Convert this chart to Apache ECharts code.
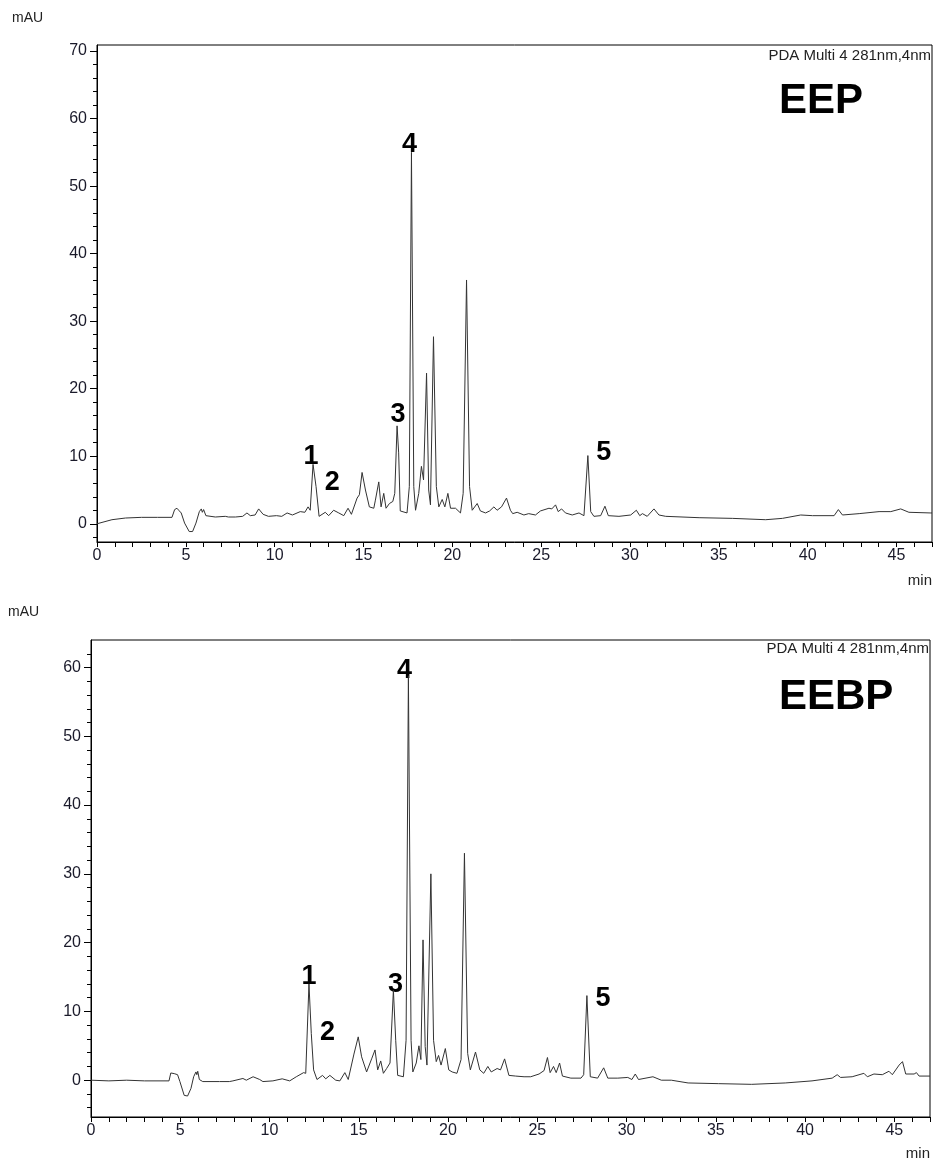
<!DOCTYPE html>
<html>
<head>
<meta charset="utf-8">
<script src="https://cdn.jsdelivr.net/npm/echarts@6/dist/echarts.min.js"></script>
<style>
html,body{margin:0;padding:0;background:#fff;}
#chart{width:935px;height:1161px;}
</style>
</head>
<body>
<div id="chart"></div>
<script>
// ---- Data (retention time in min, absorbance in mAU) ----
const eepTime = [0,0.1,0.84,1.6,2.5,3.4,4.22,4.37,4.5,4.6,4.74,4.93,5.19,5.38,5.57,5.76,5.87,5.93,6.0,6.13,6.66,7.22,7.4,7.79,8.2,8.44,8.63,8.9,9.1,9.35,9.65,10.1,10.4,10.7,11.0,11.44,11.7,11.88,12.0,12.16,12.33,12.5,12.85,13.04,13.32,13.61,13.89,14.13,14.32,14.64,14.77,14.92,15.11,15.33,15.58,15.67,15.86,15.99,16.14,16.27,16.46,16.65,16.76,16.89,16.98,17.07,17.45,17.58,17.70,17.83,17.93,18.11,18.26,18.38,18.55,18.67,18.77,18.94,19.1,19.24,19.43,19.58,19.75,19.9,20.18,20.46,20.61,20.8,20.97,21.12,21.4,21.58,21.87,22.1,22.34,22.52,22.77,23.05,23.27,23.4,23.65,24.03,24.3,24.68,24.96,25.44,25.6,25.81,25.96,26.15,26.37,26.75,27.13,27.41,27.63,27.79,27.97,28.35,28.59,28.78,29.38,30.04,30.36,30.55,30.7,30.97,31.35,31.63,32.01,33.89,35.76,37.64,38.58,39.61,40.27,41.49,41.73,41.96,42.9,44.02,44.68,45.24,45.7,46.93,47];
const eepAbs  = [0,0,0.6,0.85,0.95,0.95,0.95,2.1,2.3,2.0,1.6,0.1,-1.15,-1.15,0.1,1.8,2.2,1.7,2.1,1.2,1.0,1.1,1.0,1.0,1.1,1.6,1.2,1.3,2.2,1.4,1.1,1.2,1.1,1.6,1.3,1.8,1.7,2.5,2.0,8.8,5.5,1.1,1.7,1.2,2.0,1.6,1.2,2.3,1.4,3.8,4.3,7.6,5.0,2.5,2.3,3.5,6.2,2.5,4.5,2.3,3.0,3.3,4.5,14.5,10.5,1.9,1.6,5.5,55.0,5.5,2.0,4.5,8.5,6.5,22.3,5.0,2.8,27.7,5.5,2.5,3.6,2.5,4.5,2.3,2.3,1.6,4.5,36.1,5.5,2.0,3.0,1.9,1.6,1.9,2.5,2.0,2.5,3.8,2.0,1.5,1.7,1.3,1.5,1.3,1.9,2.3,2.2,2.8,1.8,2.2,1.6,1.3,1.6,1.2,10.1,1.8,1.1,1.2,2.6,1.2,1.1,1.3,2.0,1.2,1.5,1.1,2.2,1.3,1.1,0.9,0.8,0.6,0.8,1.3,1.2,1.2,2.1,1.3,1.5,1.8,1.8,2.2,1.7,1.6,1.6];

const eebpTime = [0,1.0,2.0,3.0,4.37,4.47,4.66,4.85,4.98,5.22,5.41,5.6,5.75,5.88,5.93,5.98,6.07,6.26,7.2,7.75,7.95,8.51,8.7,9.08,9.45,9.63,10.19,10.71,11.13,11.5,11.91,12.03,12.21,12.34,12.47,12.66,12.97,13.15,13.38,13.71,13.94,14.22,14.41,14.73,14.97,15.16,15.44,15.72,15.91,16.06,16.23,16.38,16.56,16.75,16.94,17.07,17.18,17.5,17.65,17.78,17.93,18.03,18.22,18.37,18.48,18.6,18.72,18.82,19.04,19.19,19.34,19.47,19.61,19.85,20.04,20.23,20.5,20.73,20.92,21.1,21.25,21.54,21.78,22.0,22.23,22.42,22.75,22.94,23.17,23.41,23.79,24.26,24.63,25.1,25.38,25.57,25.72,25.91,26.06,26.25,26.41,26.88,27.45,27.6,27.78,27.97,28.38,28.72,28.95,29.51,30.07,30.3,30.49,30.67,31.48,31.95,32.51,33.45,35.14,37.01,38.89,40.39,41.52,41.8,41.99,42.64,43.3,43.49,43.86,44.33,44.7,44.89,45.27,45.46,45.64,46.11,46.24,46.39,47];
const eebpAbs  = [0,-0.1,0.0,-0.1,-0.1,1.05,0.96,0.8,-0.2,-2.2,-2.3,-1.2,0.5,1.2,0.8,1.3,0.1,-0.2,-0.2,-0.2,-0.1,0.25,0.0,0.5,0.1,-0.2,-0.1,0.2,-0.1,0.5,1.1,1.0,14.0,6.8,1.5,0.1,0.7,0.2,0.7,0.0,-0.1,1.1,0.1,3.8,6.3,3.4,1.2,3.1,4.4,1.5,2.8,1.0,1.7,2.5,13.1,5.8,0.7,0.5,5.8,58.8,5.8,1.2,2.5,5.0,3.0,20.4,4.9,2.2,30.0,5.8,2.7,3.6,2.2,4.6,1.5,1.2,1.0,3.0,33.0,3.9,1.5,4.1,1.5,1.0,2.0,1.2,1.7,1.5,3.1,0.7,0.6,0.5,0.5,0.9,1.4,3.3,1.1,2.0,1.1,2.5,0.6,0.3,0.3,0.8,12.3,0.5,0.3,1.8,0.3,0.3,0.4,0.1,0.9,0.1,0.5,0.0,0.0,-0.4,-0.5,-0.6,-0.4,-0.1,0.3,0.8,0.4,0.5,1.0,0.5,0.9,0.8,1.3,0.8,2.2,2.7,0.9,0.9,1.1,0.6,0.6];

// numbered peaks: label text and the retention time of the peak it marks
const peakNames = ['1','2','3','4','5'];
const eepPeakTimes  = [12.16, 12.85, 16.89, 17.70, 27.63];
const eebpPeakTimes = [12.21, 12.97, 16.94, 17.78, 27.78];

// axis tick labels
const xTickLabels = [0,5,10,15,20,25,30,35,40,45];
const eepYTickLabels  = [0,10,20,30,40,50,60,70];
const eebpYTickLabels = [0,10,20,30,40,50,60];

// ---- build ----
const FONT = "'Liberation Sans', Arial, sans-serif";
function pairs(t, v){ return t.map((x,i)=>[x, v[i]]); }
function range(a,b,s){ const r=[]; for(let x=a; x<=b+1e-9; x+=s) r.push(Math.round(x*1000)/1000); return r; }
function peakPoints(times, t, v, offsets){
  return times.map((pt,i)=>{
    const idx = t.indexOf(pt);
    return { name: peakNames[i], value: [pt, v[idx]],
      label: { offset: offsets[i] } };
  });
}

const chart = echarts.init(document.getElementById('chart'), null, {renderer:'canvas'});

const tickLabelStyle = { color:'#1a1a2a', fontSize:16, fontFamily:FONT };
function xAxisDef(gridIndex){
  return {
    type:'value', gridIndex, min:0, max:47, position:'bottom',
    axisLine:{ show:true, onZero:false, lineStyle:{ color:'#000', width:1 } },
    axisTick:{ show:true, length:5, lineStyle:{ color:'#000' }, customValues: range(0,47,1) },
    axisLabel:{ ...tickLabelStyle, margin:6, customValues: xTickLabels },
    splitLine:{ show:false }
  };
}
function yMajor(gridIndex, min, max, labels){
  return {
    type:'value', gridIndex, min, max, position:'left',
    axisLine:{ show:true, onZero:false, lineStyle:{ color:'#000', width:1 } },
    axisTick:{ show:true, length:7, lineStyle:{ color:'#000' }, customValues: labels },
    axisLabel:{ ...tickLabelStyle, margin:10, customValues: labels },
    splitLine:{ show:false }
  };
}
function yMinor(gridIndex, min, max, from, to){
  return {
    type:'value', gridIndex, min, max, position:'left', offset:0,
    axisLine:{ show:false, onZero:false },
    axisTick:{ show:true, length:4, lineStyle:{ color:'#000' }, customValues: range(from,to,2) },
    axisLabel:{ show:false },
    splitLine:{ show:false }
  };
}
const lineStyle = { color:'#333', width:1 };
const peakLabel = { show:true, position:'top', distance:0, formatter:'{b}', color:'#000', opacity:1,
  textBorderWidth:0, textBorderColor:'transparent', fontSize:27, fontWeight:'bold', fontFamily:FONT };
const hiddenMark = { color:'rgba(0,0,0,0)', opacity:1 };

const option = {
  backgroundColor:'#fff',
  animation:false,
  grid:[
    { left:97, top:45, width:835, height:497, show:true, borderColor:'#000', borderWidth:1, backgroundColor:'transparent' },
    { left:91, top:640, width:839, height:477, show:true, borderColor:'#000', borderWidth:1, backgroundColor:'transparent' }
  ],
  xAxis:[ xAxisDef(0), xAxisDef(1) ],
  yAxis:[
    yMajor(0, -2.7, 70.9, eepYTickLabels),
    yMinor(0, -2.7, 70.9, -2, 70),
    yMajor(1, -5.35, 64, eebpYTickLabels),
    yMinor(1, -5.35, 64, -4, 62)
  ],
  series:[
    { type:'line', xAxisIndex:0, yAxisIndex:0, data: pairs(eepTime, eepAbs), showSymbol:false, symbol:'none', lineStyle, silent:true },
    { type:'line', xAxisIndex:1, yAxisIndex:2, data: pairs(eebpTime, eebpAbs), showSymbol:false, symbol:'none', lineStyle, silent:true },
    { type:'scatter', xAxisIndex:0, yAxisIndex:0, symbolSize:1, itemStyle: hiddenMark, silent:true, label: peakLabel,
      data: peakPoints(eepPeakTimes, eepTime, eepAbs, [[-2,6],[7,-16],[1,3],[-2,6],[16,11]]) },
    { type:'scatter', xAxisIndex:1, yAxisIndex:2, symbolSize:1, itemStyle: hiddenMark, silent:true, label: peakLabel,
      data: peakPoints(eebpPeakTimes, eebpTime, eebpAbs, [[0,7],[5,-29],[2,8],[-4,9],[16,17]]) }
  ],
  graphic:[
    { type:'text', left:12, top:11, style:{ text:'mAU', fontSize:14, fontFamily:FONT, fill:'#222' } },
    { type:'text', left:8, top:605, style:{ text:'mAU', fontSize:14, fontFamily:FONT, fill:'#222' } },
    { type:'text', right:3, top:573, style:{ text:'min', fontSize:15, fontFamily:FONT, fill:'#222' } },
    { type:'text', right:5, top:1146, style:{ text:'min', fontSize:15, fontFamily:FONT, fill:'#222' } },
    { type:'text', right:4, top:48, style:{ text:'PDA Multi 4 281nm,4nm', fontSize:15, fontFamily:FONT, fill:'#222' } },
    { type:'text', right:6, top:641, style:{ text:'PDA Multi 4 281nm,4nm', fontSize:15, fontFamily:FONT, fill:'#222' } },
    { type:'text', left:779, top:80, style:{ text:'EEP', fontSize:42, fontWeight:'bold', fontFamily:FONT, fill:'#000' } },
    { type:'text', left:779, top:676, style:{ text:'EEBP', fontSize:42, fontWeight:'bold', fontFamily:FONT, fill:'#000' } }
  ]
};
chart.setOption(option);
</script>
</body>
</html>
